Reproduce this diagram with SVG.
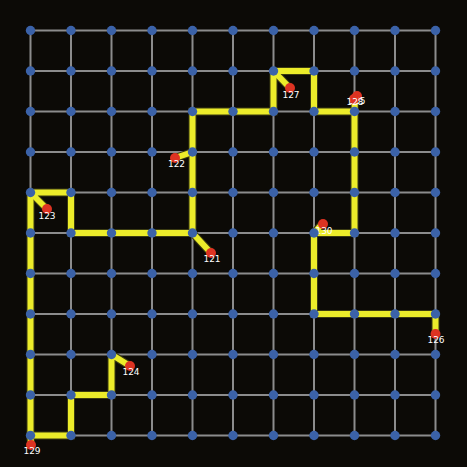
<svg xmlns="http://www.w3.org/2000/svg" width="467" height="467" viewBox="0 0 467 467">
<style>
.g{stroke:#8c8c8c;stroke-width:2;fill:none}
.p{stroke:#3a3a10;stroke-width:8;fill:none;stroke-linejoin:miter;stroke-miterlimit:2;stroke-linecap:butt}
.y{stroke:#ecec2a;stroke-width:6;fill:none;stroke-linejoin:miter;stroke-miterlimit:2;stroke-linecap:butt}
.n{fill:#3b62a8}
.r{fill:#dd3322}
.t{fill:#ffffff;font-family:"DejaVu Sans","Liberation Sans",sans-serif;font-size:9px;text-anchor:middle}
</style>
<defs>
<g id="gridlines">
<path class="g" d="M30.5 30.5V435.5M71 30.5V435.5M111.5 30.5V435.5M152 30.5V435.5M192.5 30.5V435.5M233 30.5V435.5M273.5 30.5V435.5M314 30.5V435.5M354.5 30.5V435.5M395 30.5V435.5M435.5 30.5V435.5M30.5 30.5H435.5M30.5 71H435.5M30.5 111.5H435.5M30.5 152H435.5M30.5 192.5H435.5M30.5 233H435.5M30.5 273.5H435.5M30.5 314H435.5M30.5 354.5H435.5M30.5 395H435.5M30.5 435.5H435.5"/>
</g>
</defs>
<rect width="467" height="467" fill="#0c0a06"/>
<use href="#gridlines"/>
<g id="connectors">
<g class="p">
<polyline points="290,88 273.5,71 314,71 314,111.5 354.5,111.5"/>
<polyline points="273.5,71 273.5,111.5 192.5,111.5 192.5,233"/>
<polyline points="175,158 192.5,152"/>
<polyline points="211,253 192.5,233 71,233 71,192.5 30.5,192.5 47,209"/>
<polyline points="30.5,192.5 30.5,435.5 71,435.5 71,395 111.5,395 111.5,354.5 130,366"/>
<polyline points="30.5,435.5 31,445"/>
<polyline points="355,97 354.5,111.5 354.5,233 314,233 323,223"/>
<polyline points="314,233 314,314 435.5,314 435.5,334"/>
</g>
<g class="y">
<polyline points="290,88 273.5,71 314,71 314,111.5 354.5,111.5"/>
<polyline points="273.5,71 273.5,111.5 192.5,111.5 192.5,233"/>
<polyline points="175,158 192.5,152"/>
<polyline points="211,253 192.5,233 71,233 71,192.5 30.5,192.5 47,209"/>
<polyline points="30.5,192.5 30.5,435.5 71,435.5 71,395 111.5,395 111.5,354.5 130,366"/>
<polyline points="30.5,435.5 31,445"/>
<polyline points="355,97 354.5,111.5 354.5,233 314,233 323,223"/>
<polyline points="314,233 314,314 435.5,314 435.5,334"/>
</g>
</g>
<g id="r121"><circle class="r" cx="211" cy="253" r="5"/><text class="t" x="212" y="261.5">121</text></g>
<g id="r122"><circle class="r" cx="175" cy="158" r="5"/><text class="t" x="176.5" y="167">122</text></g>
<g id="r123"><circle class="r" cx="47" cy="209" r="5"/><text class="t" x="47" y="218.5">123</text></g>
<g id="r124"><circle class="r" cx="130" cy="366" r="5"/><text class="t" x="131" y="374.5">124</text></g>
<g id="r125"><circle class="r" cx="357" cy="96" r="5"/><text class="t" x="357" y="104">125</text></g>
<g id="r128"><circle class="r" cx="354" cy="99" r="5"/><text class="t" x="355" y="105">128</text></g>
<g id="r126"><circle class="r" cx="435.5" cy="334" r="5"/><text class="t" x="436" y="342.5">126</text></g>
<g id="r127"><circle class="r" cx="290" cy="88" r="5"/><text class="t" x="291" y="97.5">127</text></g>
<g id="r129"><circle class="r" cx="31" cy="445" r="5"/><text class="t" x="32" y="453.5">129</text></g>
<g id="r130"><circle class="r" cx="323" cy="224" r="5"/><text class="t" x="324" y="233.5">130</text></g>
<g id="nodes" class="n">
<circle cx="30.5" cy="30.5" r="4.7"/><circle cx="71" cy="30.5" r="4.7"/><circle cx="111.5" cy="30.5" r="4.7"/><circle cx="152" cy="30.5" r="4.7"/><circle cx="192.5" cy="30.5" r="4.7"/><circle cx="233" cy="30.5" r="4.7"/><circle cx="273.5" cy="30.5" r="4.7"/><circle cx="314" cy="30.5" r="4.7"/><circle cx="354.5" cy="30.5" r="4.7"/><circle cx="395" cy="30.5" r="4.7"/><circle cx="435.5" cy="30.5" r="4.7"/>
<circle cx="30.5" cy="71" r="4.7"/><circle cx="71" cy="71" r="4.7"/><circle cx="111.5" cy="71" r="4.7"/><circle cx="152" cy="71" r="4.7"/><circle cx="192.5" cy="71" r="4.7"/><circle cx="233" cy="71" r="4.7"/><circle cx="273.5" cy="71" r="4.7"/><circle cx="314" cy="71" r="4.7"/><circle cx="354.5" cy="71" r="4.7"/><circle cx="395" cy="71" r="4.7"/><circle cx="435.5" cy="71" r="4.7"/>
<circle cx="30.5" cy="111.5" r="4.7"/><circle cx="71" cy="111.5" r="4.7"/><circle cx="111.5" cy="111.5" r="4.7"/><circle cx="152" cy="111.5" r="4.7"/><circle cx="192.5" cy="111.5" r="4.7"/><circle cx="233" cy="111.5" r="4.7"/><circle cx="273.5" cy="111.5" r="4.7"/><circle cx="314" cy="111.5" r="4.7"/><circle cx="354.5" cy="111.5" r="4.7"/><circle cx="395" cy="111.5" r="4.7"/><circle cx="435.5" cy="111.5" r="4.7"/>
<circle cx="30.5" cy="152" r="4.7"/><circle cx="71" cy="152" r="4.7"/><circle cx="111.5" cy="152" r="4.7"/><circle cx="152" cy="152" r="4.7"/><circle cx="192.5" cy="152" r="4.7"/><circle cx="233" cy="152" r="4.7"/><circle cx="273.5" cy="152" r="4.7"/><circle cx="314" cy="152" r="4.7"/><circle cx="354.5" cy="152" r="4.7"/><circle cx="395" cy="152" r="4.7"/><circle cx="435.5" cy="152" r="4.7"/>
<circle cx="30.5" cy="192.5" r="4.7"/><circle cx="71" cy="192.5" r="4.7"/><circle cx="111.5" cy="192.5" r="4.7"/><circle cx="152" cy="192.5" r="4.7"/><circle cx="192.5" cy="192.5" r="4.7"/><circle cx="233" cy="192.5" r="4.7"/><circle cx="273.5" cy="192.5" r="4.7"/><circle cx="314" cy="192.5" r="4.7"/><circle cx="354.5" cy="192.5" r="4.7"/><circle cx="395" cy="192.5" r="4.7"/><circle cx="435.5" cy="192.5" r="4.7"/>
<circle cx="30.5" cy="233" r="4.7"/><circle cx="71" cy="233" r="4.7"/><circle cx="111.5" cy="233" r="4.7"/><circle cx="152" cy="233" r="4.7"/><circle cx="192.5" cy="233" r="4.7"/><circle cx="233" cy="233" r="4.7"/><circle cx="273.5" cy="233" r="4.7"/><circle cx="314" cy="233" r="4.7"/><circle cx="354.5" cy="233" r="4.7"/><circle cx="395" cy="233" r="4.7"/><circle cx="435.5" cy="233" r="4.7"/>
<circle cx="30.5" cy="273.5" r="4.7"/><circle cx="71" cy="273.5" r="4.7"/><circle cx="111.5" cy="273.5" r="4.7"/><circle cx="152" cy="273.5" r="4.7"/><circle cx="192.5" cy="273.5" r="4.7"/><circle cx="233" cy="273.5" r="4.7"/><circle cx="273.5" cy="273.5" r="4.7"/><circle cx="314" cy="273.5" r="4.7"/><circle cx="354.5" cy="273.5" r="4.7"/><circle cx="395" cy="273.5" r="4.7"/><circle cx="435.5" cy="273.5" r="4.7"/>
<circle cx="30.5" cy="314" r="4.7"/><circle cx="71" cy="314" r="4.7"/><circle cx="111.5" cy="314" r="4.7"/><circle cx="152" cy="314" r="4.7"/><circle cx="192.5" cy="314" r="4.7"/><circle cx="233" cy="314" r="4.7"/><circle cx="273.5" cy="314" r="4.7"/><circle cx="314" cy="314" r="4.7"/><circle cx="354.5" cy="314" r="4.7"/><circle cx="395" cy="314" r="4.7"/><circle cx="435.5" cy="314" r="4.7"/>
<circle cx="30.5" cy="354.5" r="4.7"/><circle cx="71" cy="354.5" r="4.7"/><circle cx="111.5" cy="354.5" r="4.7"/><circle cx="152" cy="354.5" r="4.7"/><circle cx="192.5" cy="354.5" r="4.7"/><circle cx="233" cy="354.5" r="4.7"/><circle cx="273.5" cy="354.5" r="4.7"/><circle cx="314" cy="354.5" r="4.7"/><circle cx="354.5" cy="354.5" r="4.7"/><circle cx="395" cy="354.5" r="4.7"/><circle cx="435.5" cy="354.5" r="4.7"/>
<circle cx="30.5" cy="395" r="4.7"/><circle cx="71" cy="395" r="4.7"/><circle cx="111.5" cy="395" r="4.7"/><circle cx="152" cy="395" r="4.7"/><circle cx="192.5" cy="395" r="4.7"/><circle cx="233" cy="395" r="4.7"/><circle cx="273.5" cy="395" r="4.7"/><circle cx="314" cy="395" r="4.7"/><circle cx="354.5" cy="395" r="4.7"/><circle cx="395" cy="395" r="4.7"/><circle cx="435.5" cy="395" r="4.7"/>
<circle cx="30.5" cy="435.5" r="4.7"/><circle cx="71" cy="435.5" r="4.7"/><circle cx="111.5" cy="435.5" r="4.7"/><circle cx="152" cy="435.5" r="4.7"/><circle cx="192.5" cy="435.5" r="4.7"/><circle cx="233" cy="435.5" r="4.7"/><circle cx="273.5" cy="435.5" r="4.7"/><circle cx="314" cy="435.5" r="4.7"/><circle cx="354.5" cy="435.5" r="4.7"/><circle cx="395" cy="435.5" r="4.7"/><circle cx="435.5" cy="435.5" r="4.7"/>
</g>
</svg>
